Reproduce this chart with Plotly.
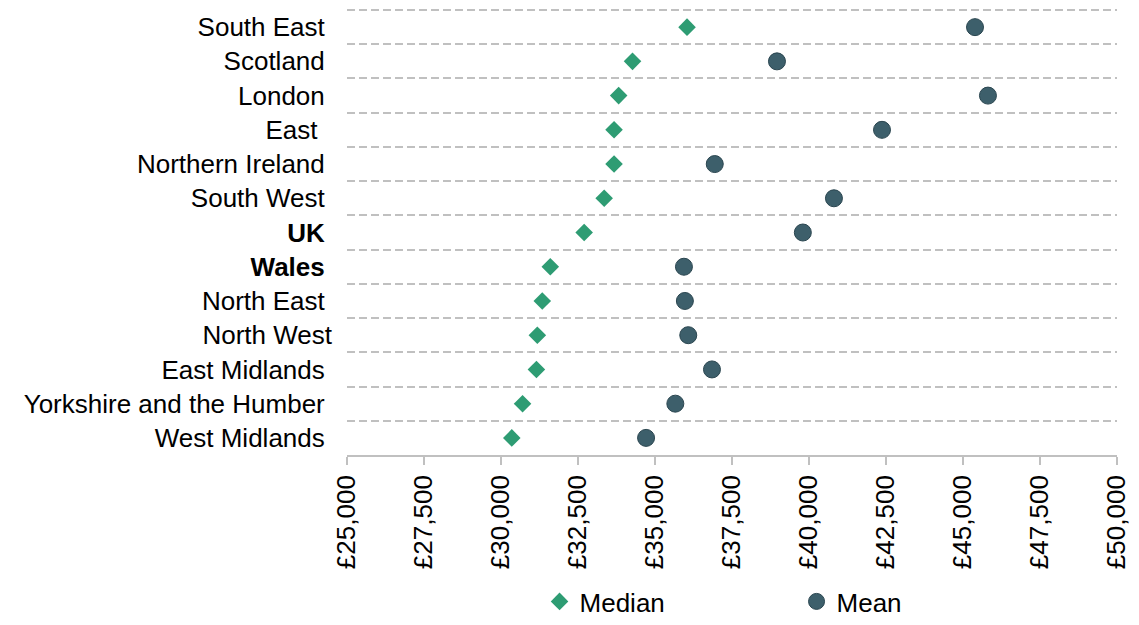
import plotly.graph_objects as go

# Regions, top to bottom; trailing non-breaking spaces keep label alignment
regions = [
    "South East\u00a0", "Scotland\u00a0", "London\u00a0", "East\u00a0\u00a0",
    "Northern Ireland\u00a0", "South West\u00a0", "<b>UK</b>\u00a0",
    "<b>Wales</b>\u00a0", "North East\u00a0", "North West",
    "East Midlands\u00a0", "Yorkshire and the Humber\u00a0", "West Midlands\u00a0",
]

# Annual earnings (£)
median_pay = [36040, 34270, 33820, 33670, 33670, 33350, 32700,
              31600, 31340, 31180, 31150, 30700, 30350]
mean_pay = [45390, 38960, 45810, 42370, 36940, 40810, 39800,
            35940, 35970, 36080, 36850, 35660, 34710]

x_ticks = list(range(25000, 50001, 2500))
x_tick_labels = [f"£{v:,}" for v in x_ticks]

GREEN = "#2e9c73"
SLATE = "#3d5f6b"
FONT = "Liberation Sans, Arial, sans-serif"

fig = go.Figure()
fig.add_trace(go.Scatter(
    x=median_pay, y=regions, mode="markers", name="Median",
    marker=dict(symbol="diamond", size=13.5, color=GREEN, line=dict(width=0)),
))
fig.add_trace(go.Scatter(
    x=mean_pay, y=regions, mode="markers", name="Mean",
    marker=dict(symbol="circle", size=17, color=SLATE,
                line=dict(width=1, color="#2b4650")),
))

fig.update_layout(
    width=1139, height=625,
    margin=dict(l=347, r=22, t=9, b=170),
    paper_bgcolor="white", plot_bgcolor="white",
    font=dict(family=FONT, size=26, color="#000000"),
    showlegend=True,
    legend=dict(
        orientation="h", xref="container", yref="container",
        x=0.4737, y=-0.024, xanchor="left", yanchor="bottom",
        entrywidth=212, entrywidthmode="pixels",
        font=dict(size=26, family=FONT, color="#000000"),
        bgcolor="rgba(0,0,0,0)",
    ),
)

fig.update_xaxes(
    range=[25000, 50000], tickmode="array", tickvals=x_ticks,
    ticktext=x_tick_labels, tickangle=-90, automargin=False,
    showgrid=False, zeroline=False,
    showline=True, linecolor="#c0c0c0", linewidth=1.5,
    ticks="outside", ticklen=8, tickwidth=1.5, tickcolor="#c0c0c0",
    tickfont=dict(size=26, family=FONT, color="#000000"),
)

# Slight overshoot at the top keeps the first boundary gridline visible
fig.update_yaxes(
    type="category", categoryorder="array", categoryarray=regions,
    tickmode="array", tickvals=regions, ticktext=regions,
    range=[len(regions) - 0.5, -0.53], tickson="boundaries", ticks="",
    automargin=False,
    showgrid=True, gridcolor="#c0c0c0", gridwidth=1.5, griddash="8px,4px",
    zeroline=False, showline=False,
    ticklabelstandoff=14,
    tickfont=dict(size=26, family=FONT, color="#000000"),
)

fig.write_html("out.html")
